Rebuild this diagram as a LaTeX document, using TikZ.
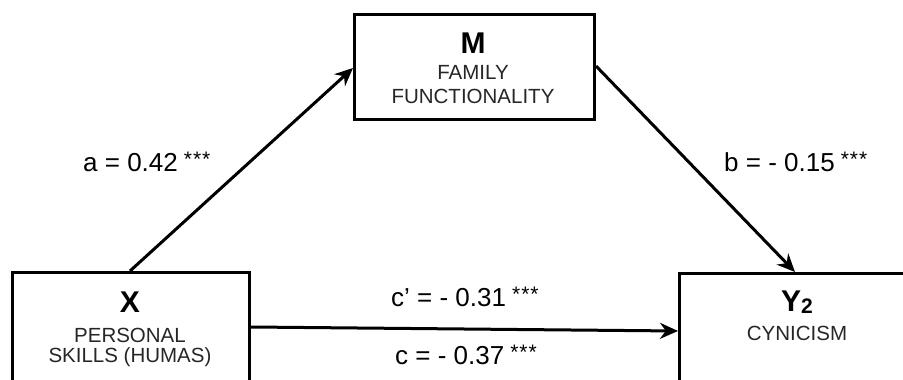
\documentclass[tikz,border=0pt]{standalone}
\usepackage{fontspec}
\setmainfont{Liberation Sans}
\usetikzlibrary{arrows.meta,calc}
\newcommand{\stars}{\kern6pt\raisebox{0.32ex}{\fontsize{21}{21}\selectfont *\kern1pt*\kern1pt*}}
\begin{document}
\begin{tikzpicture}[x=1pt,y=-1pt,
  box/.style={draw=black,line width=3pt,inner sep=0pt,anchor=north west},
  conn/.style={line width=3pt,-{Stealth[length=18pt,width=16pt]}},
  big/.style={font=\bfseries\fontsize{30}{30}\selectfont,inner sep=0pt},
  sub/.style={font=\fontsize{20.5}{20.5}\selectfont,text=black!85,inner sep=0pt},
  lab/.style={font=\fontsize{26}{26}\selectfont,inner sep=0pt,anchor=west}]
\useasboundingbox (0,0) rectangle (903,380);
\clip (0,0) rectangle (903,380);
% boxes
\node[box,minimum width=237pt,minimum height=130pt] (X) at (11,271) {};
\node[box,minimum width=240pt,minimum height=105pt] (M) at (353,13) {};
\node[box,minimum width=240pt,minimum height=130pt] (Y) at (678,272) {};
% texts
\node[big] (xt) at (130,302) {X};
\node[sub] (x1) at (130,335) {PERSONAL};
\node[sub] (x2) at (130,357) {SKILLS (HUMAS)};
\node[big] (mt) at (473,43) {M};
\node[sub] (m1) at (473,72) {FAMILY};
\node[sub] (m2) at (473,96) {FUNCTIONALITY};
\node[big] (yt) at (797,302) {Y\raisebox{-0.1ex}{\fontsize{21}{21}\selectfont 2}};
\node[sub] (y1) at (797,333) {CYNICISM};
% connectors
\coordinate (xs) at ($(X.north west)+(119,0)$);
\coordinate (me) at ($(M.north west)+(0,55)$);
\coordinate (ms) at ($(M.north east)+(0,53)$);
\coordinate (ye) at ($(Y.north west)+(117,0)$);
\coordinate (xh) at ($(X.north east)+(0,56)$);
\coordinate (yh) at ($(Y.north west)+(0,59)$);
\draw[conn] (xs) -- (me);
\draw[conn] (ms) -- (ye);
\draw[conn] (xh) -- (yh);
% labels
\node[lab] (la) at (83,162) {a = 0.42\stars};
\node[lab] (lb) at (724,162) {b = - 0.15\stars};
\node[lab] (lc1) at (391,297) {c’ = - 0.31\stars};
\node[lab] (lc2) at (395,355) {c = - 0.37\stars};
\end{tikzpicture}
\end{document}
